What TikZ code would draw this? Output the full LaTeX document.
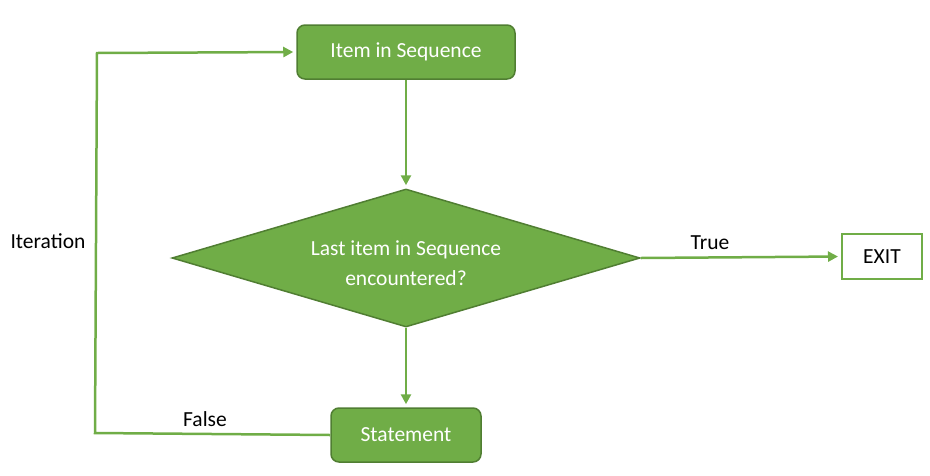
\documentclass[tikz,border=0pt]{standalone}
\usepackage{fontspec}
\setmainfont{Carlito}
\usetikzlibrary{shapes.geometric,arrows.meta}
\definecolor{gfill}{HTML}{70AD47}
\definecolor{gborder}{HTML}{507E32}
\begin{document}
\begin{tikzpicture}[x=1pt,y=-1pt,
  font=\fontsize{21.5}{30}\selectfont,
  procbox/.style={draw=gborder,fill=gfill,line width=1.5pt,rounded corners=8pt,text=white,inner sep=0pt},
  decbox/.style={diamond,aspect=3.391,draw=gborder,fill=gfill,line width=1.5pt,inner sep=0pt,
    minimum width=468pt,minimum height=138pt},
  dectxt/.style={text=white,inner sep=0pt,align=center},
  exitbox/.style={draw=gfill,fill=white,line width=2pt,inner sep=0pt,minimum width=80pt,minimum height=45pt},
  conn/.style={draw=gfill,line width=2.5pt},
  arr/.style={conn,-{Triangle[length=10pt,width=10pt]},shorten >=3pt},
  lbl/.style={text=black,inner sep=0pt}]
\useasboundingbox (0,0) rectangle (930,475);
\node[procbox,minimum width=218pt,minimum height=54pt] (item) at (406,52) {Item in Sequence};
\node[decbox] (dec) at (406,258) {};
\node[dectxt] (dect) at (406,263) {Last item in Sequence\\encountered?};
\node[procbox,minimum width=150pt,minimum height=54pt] (stmt) at (406,435) {Statement};
\node[exitbox] (exit) at (882,256.5) {EXIT};
\coordinate (cb) at (95,433);
\coordinate (ct) at (97,53);
\draw[arr] (item.south) -- (dec.north);
\draw[arr] (dec.south) -- (stmt.north);
\draw[arr] (dec.east) -- (exit.west);
\draw[arr] (stmt.west) -- (cb) -- (ct) -- (item.west);
\node[lbl] (ltrue) at (710,243) {True};
\node[lbl] (lfalse) at (205,419) {False};
\node[lbl] (liter) at (48,241) {Iteration};
\end{tikzpicture}
\end{document}
